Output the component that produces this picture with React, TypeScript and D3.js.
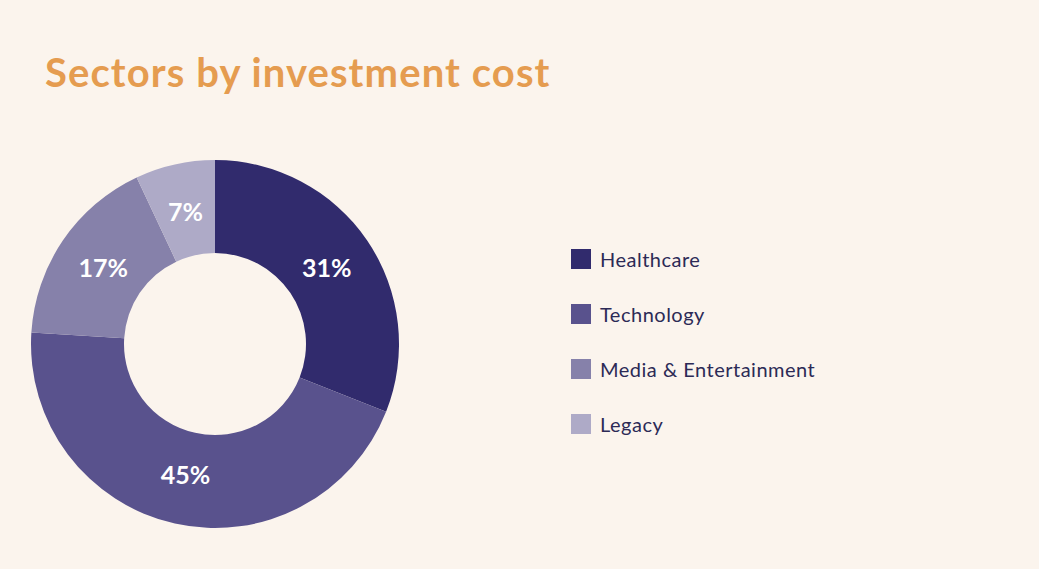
import React, { useEffect, useRef } from "react";
import * as d3 from "d3";

const sectors = ["Healthcare", "Technology", "Media & Entertainment", "Legacy"];
const shares = [31, 45, 17, 7];
const colors = ["#312b6d", "#59528d", "#8681aa", "#aeaac7"];

const width = 1039;
const height = 569;

export default function App() {
    const svgRef = useRef<SVGSVGElement | null>(null);

    useEffect(() => {
        document.body.style.margin = "0";
        if (!svgRef.current) return;

        const svg = d3.select(svgRef.current);
        svg.selectAll("*").remove();

        svg.append("rect")
            .attr("width", width)
            .attr("height", height)
            .attr("fill", "#fbf4ed");

        // title
        svg.append("text")
            .attr("x", 45)
            .attr("y", 87)
            .attr("fill", "#e59c50")
            .attr("font-family", "Lato, sans-serif")
            .attr("font-weight", 700)
            .attr("font-size", 40)
            .attr("letter-spacing", 1.1)
            .text("Sectors by investment cost");

        const data = sectors.map((s, i) => ({ name: s, value: shares[i], color: colors[i] }));

        const pie = d3.pie<typeof data[0]>()
            .value(d => d.value)
            .sort(null);

        const arc = d3.arc<d3.PieArcDatum<typeof data[0]>>()
            .innerRadius(91)
            .outerRadius(184);

        const labelArc = d3.arc<d3.PieArcDatum<typeof data[0]>>()
            .innerRadius(135)
            .outerRadius(135);

        const g = svg.append("g").attr("transform", "translate(215,344)");
        const arcs = pie(data);

        g.selectAll("path")
            .data(arcs)
            .join("path")
            .attr("d", arc)
            .attr("fill", d => d.data.color);

        g.selectAll("text")
            .data(arcs)
            .join("text")
            .attr("transform", d => `translate(${labelArc.centroid(d)})`)
            .attr("text-anchor", "middle")
            .attr("dy", "0.35em")
            .attr("fill", "#ffffff")
            .attr("font-family", "Lato, sans-serif")
            .attr("font-weight", 700)
            .attr("font-size", 25)
            .text(d => `${d.data.value}%`);

        // legend
        const legend = svg.append("g").attr("transform", "translate(571,249)");
        const rows = legend.selectAll("g")
            .data(data)
            .join("g")
            .attr("transform", (d, i) => `translate(0,${i * 55})`);

        rows.append("rect")
            .attr("width", 20)
            .attr("height", 20)
            .attr("fill", d => d.color);

        rows.append("text")
            .attr("x", 29)
            .attr("y", 18)
            .attr("fill", "#2c2a56")
            .attr("font-family", "Lato, sans-serif")
            .attr("font-size", 20)
            .attr("letter-spacing", 0.5)
            .text(d => d.name);
    }, []);

    return (
        <svg
            ref={svgRef}
            width={width}
            height={height}
            style={{ display: "block" }}
        />
    );
}
